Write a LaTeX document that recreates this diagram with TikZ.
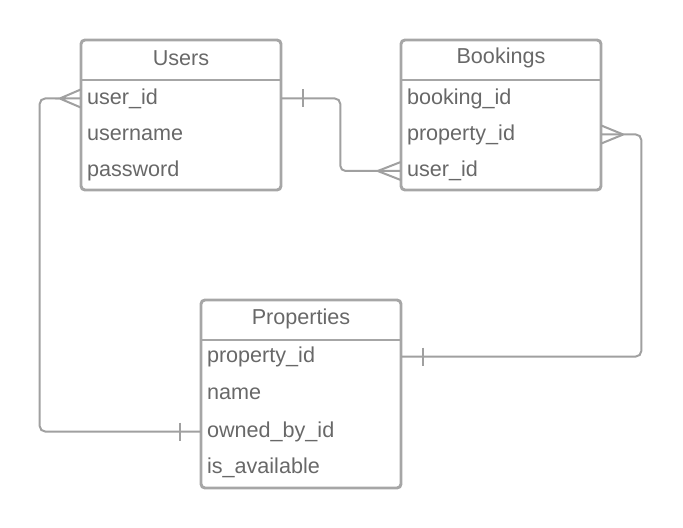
\documentclass[tikz,border=0pt]{standalone}
\usepackage{fontspec}
\setmainfont{Liberation Sans}
\usepackage{tikz}

\definecolor{boxgray}{HTML}{A6A6A6}
\definecolor{linegray}{HTML}{A0A0A0}
\definecolor{txtgray}{HTML}{686868}

\tikzset{
  tbl/.style={draw=boxgray, line width=2.2pt, rounded corners=3pt, minimum width=150pt, inner sep=0pt},
  ttl/.style={text=txtgray, font=\fontsize{16.2}{19}\selectfont},
  row/.style={text=txtgray, font=\fontsize{16.2}{19}\selectfont, text width=141pt, inner xsep=4.5pt, inner ysep=0pt, align=left},
  conn/.style={draw=linegray, line width=1.5pt},
}

\begin{document}
\begin{tikzpicture}[x=0.75pt,y=-0.75pt]
\useasboundingbox (0,0) rectangle (683,528);
% Users
\node[tbl, minimum height=112.5pt] (users) at (181,115) {};
\draw[conn, draw=boxgray, line width=2.2pt] (81,80) -- (281,80);
\node[ttl] (users-t) at (181,58) {Users};
\node[row] (users-uid) at (181,98.5) {user\_id};
\node[row] (users-name) at (181,134.5) {username};
\node[row] (users-pw) at (181,170.5) {password};
% Bookings
\node[tbl, minimum height=112.5pt] (book) at (501,115) {};
\draw[conn, draw=boxgray, line width=2.2pt] (401,80) -- (601,80);
\node[ttl] (book-t) at (501,58) {Bookings};
\node[row] (book-bid) at (501,98.5) {booking\_id};
\node[row] (book-pid) at (501,134.5) {property\_id};
\node[row] (book-uid) at (501,171) {user\_id};
% Properties
\node[tbl, minimum height=141pt] (prop) at (301,394) {};
\draw[conn, draw=boxgray, line width=2.2pt] (201,340) -- (401,340);
\node[ttl] (prop-t) at (301,319) {Properties};
\node[row] (prop-pid) at (301,356.5) {property\_id};
\node[row] (prop-name) at (301,393.5) {name};
\node[row] (prop-own) at (301,431.5) {owned\_by\_id};
\node[row] (prop-av) at (301,467.5) {is\_available};

% Users -- Properties
\draw[conn, rounded corners=4] (users-uid.west) ++(-21,0) -- ++(-20,0) |- (prop-own.west);
\draw[conn] (users-uid.west) -- ++(-21,0) -- ++(21,-9) ++(-21,9) -- ++(21,9);
\draw[conn] (prop-own.west) ++(-21,-9) -- ++(0,18);
% Users -- Bookings
\draw[conn, rounded corners=4] (users-uid.east) -- ++(59,0) |- (book-uid.west);
\draw[conn] (users-uid.east) ++(22,-9) -- ++(0,18);
\draw[conn] (book-uid.west) ++(-23,0) -- ++(23,-9) ++(-23,9) -- ++(23,9);
% Bookings -- Properties
\draw[conn, rounded corners=4] (book-pid.east) -- ++(40,0) |- (prop-pid.east);
\draw[conn] (book-pid.east) ++(22,0) -- ++(-22,-9) ++(22,9) -- ++(-22,9);
\draw[conn] (prop-pid.east) ++(22,-9) -- ++(0,18);
\end{tikzpicture}
\end{document}
